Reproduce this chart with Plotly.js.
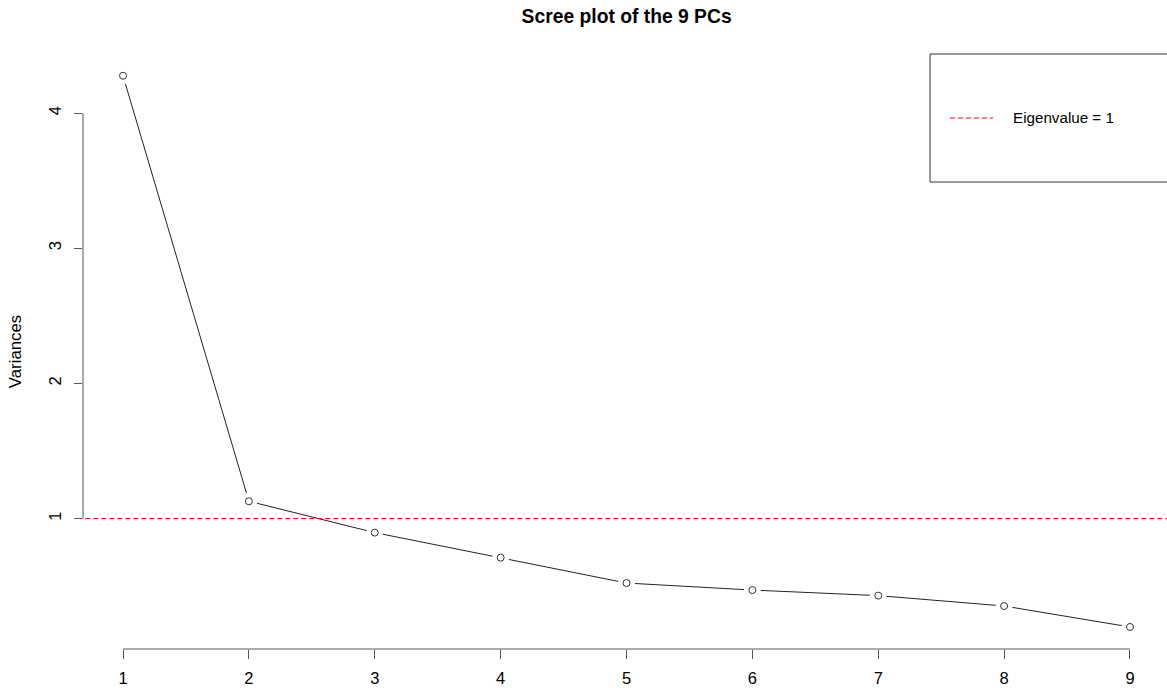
<!DOCTYPE html>
<html>
<head>
<meta charset="utf-8">
<script src="https://cdn.plot.ly/plotly-3.0.1.min.js"></script>
<style>html,body{margin:0;padding:0;background:#fff;}#chart{width:1167px;height:688px;}</style>
</head>
<body>
<div id="chart"></div>
<script>
// Data
var components = [1, 2, 3, 4, 5, 6, 7, 8, 9];
var variances = [4.276, 1.128, 0.896, 0.711, 0.523, 0.471, 0.430, 0.353, 0.198];
var xTickVals = [1, 2, 3, 4, 5, 6, 7, 8, 9];
var yTickVals = [1, 2, 3, 4];
var eigenThreshold = 1;
var legendLabel = 'Eigenvalue = 1';
var chartTitle = 'Scree plot of the 9 PCs';
var yLabel = 'Variances';

var FONT = '"Liberation Sans", Arial, sans-serif';
var xRange = [0.682, 9.294];
var yRange = [0.035, 4.437];

var traces = [
  { x: components, y: variances, mode: 'lines', line: {color: '#222', width: 1}, hoverinfo: 'skip', showlegend: false },
  { x: components, y: variances, mode: 'markers', marker: {color: '#fff', size: 17, line: {width: 0}}, hoverinfo: 'skip', showlegend: false },
  { x: components, y: variances, mode: 'markers', marker: {symbol: 'circle-open', color: '#333', size: 7, line: {width: 1, color: '#333'}}, showlegend: false },
  { x: [xRange[0] - 1, xRange[1] + 1], y: [eigenThreshold, eigenThreshold], mode: 'lines', line: {color: '#ff0000', width: 1, dash: '5px,3px'}, name: legendLabel, showlegend: false, hoverinfo: 'skip' }
];

var layout = {
  width: 1167, height: 688,
  margin: {l: 83, r: 0, t: 54, b: 39.3, pad: 0},
  paper_bgcolor: '#fff', plot_bgcolor: '#fff',
  showlegend: false,
  title: {text: '<b>' + chartTitle + '</b>', font: {family: FONT, size: 19.3, color: '#000'}, x: 0.5015, xref: 'paper', xanchor: 'center', y: 1, yref: 'container', yanchor: 'top', pad: {t: 9}},
  xaxis: {
    range: xRange, showgrid: false, zeroline: false, showline: false,
    tickmode: 'array', tickvals: xTickVals, ticktext: xTickVals.map(String),
    ticks: 'outside', ticklen: 9, tickwidth: 1, tickcolor: '#555',
    ticklabelstandoff: 5,
    tickfont: {family: FONT, size: 16.5, color: '#000'}
  },
  yaxis: {
    range: yRange, showgrid: false, zeroline: false, showline: false,
    tickmode: 'array', tickvals: yTickVals, ticktext: yTickVals.map(String),
    ticks: 'outside', ticklen: 8, tickwidth: 1, tickcolor: '#555', tickangle: -90,
    ticklabelstandoff: 6,
    tickfont: {family: FONT, size: 16.5, color: '#000'},
    title: {text: yLabel, font: {family: FONT, size: 16.8, color: '#000'}, standoff: 20}
  },
  shapes: [
    // x axis line (R style, spanning first to last tick)
    {type: 'line', xref: 'x', yref: 'paper', x0: xTickVals[0], x1: xTickVals[xTickVals.length - 1], y0: 0, y1: 0, line: {color: '#555', width: 1}},
    // y axis line
    {type: 'line', xref: 'paper', yref: 'y', x0: 0, x1: 0, y0: yTickVals[0], y1: yTickVals[yTickVals.length - 1], line: {color: '#555', width: 1}},
    // legend box
    {type: 'rect', xref: 'paper', yref: 'paper', x0: 0.7814, x1: 1.01, y0: 0.7848, y1: 1.0, line: {color: '#333', width: 1}, fillcolor: 'rgba(255,255,255,0)'},
    // legend sample line
    {type: 'line', xref: 'paper', yref: 'paper', x0: 0.7998, x1: 0.8395, y0: 0.8925, y1: 0.8925, line: {color: '#ff0000', width: 1, dash: '5px,3px'}}
  ],
  annotations: [
    {xref: 'paper', yref: 'paper', x: 0.8560, y: 0.8925, xanchor: 'left', yanchor: 'middle', text: legendLabel, showarrow: false, font: {family: FONT, size: 15.2, color: '#000'}}
  ]
};

Plotly.newPlot('chart', traces, layout, {displayModeBar: false, staticPlot: true});
</script>
</body>
</html>
